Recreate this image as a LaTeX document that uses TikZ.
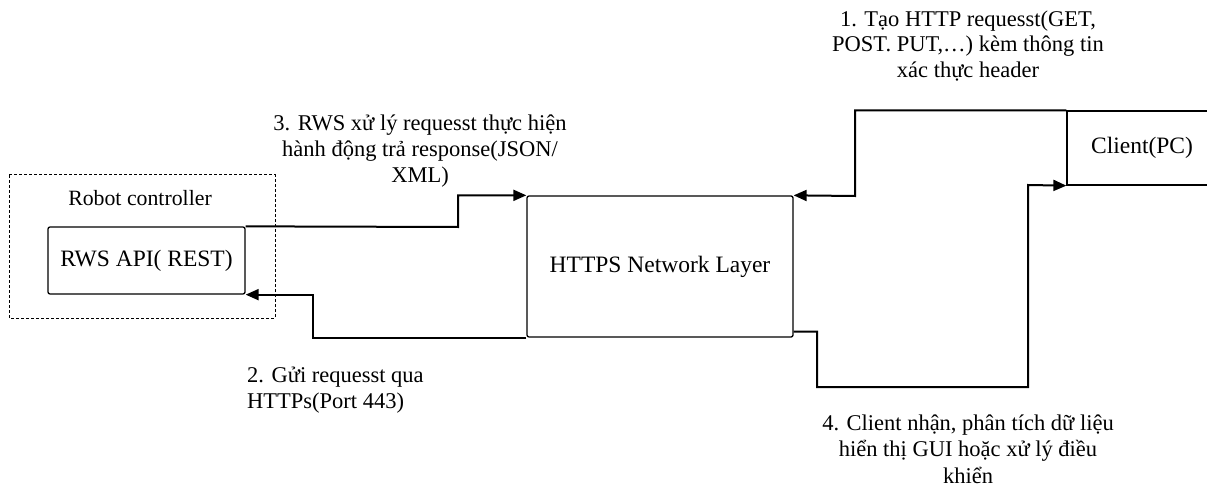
\documentclass[tikz,border=0pt]{standalone}
\usepackage{fontspec}
\setmainfont{Liberation Serif}
\usetikzlibrary{arrows.meta,calc}

\tikzset{
  x=1pt, y=-1pt,
  box/.style={draw, line width=1.3pt, rounded corners=2pt, inner sep=0pt,
              font=\fontsize{23.5}{27}\selectfont, align=center},
  conn/.style={line width=2pt, -{Triangle[length=13pt,width=11pt]}},
  lbl/.style={inner sep=0pt, align=center, font=\fontsize{22.5}{25.8}\selectfont},
  group/.style={draw, dashed, line width=1pt, dash pattern=on 3pt off 2pt}
}

\begin{document}
\begin{tikzpicture}
\useasboundingbox (0,0) rectangle (1207,489);

% Robot controller group
\draw[group] (9,175) rectangle (275,318);
\node[lbl, font=\fontsize{21.8}{25}\selectfont] (rc) at (140,198) {Robot controller};

% Main blocks
\node[box, minimum width=197pt, minimum height=67pt] (rws) at (146.5,260.5) {RWS API( REST)};
\node[box, minimum width=266pt, minimum height=141pt] (https) at (660,266.5) {HTTPS Network Layer};
\node[box, rounded corners=0pt, minimum width=150pt, minimum height=74pt] (client) at (1142,148) {Client(PC)};

% Connectors
\draw[conn] (client.north west) -| (855,196) -- (https.north east);
\draw[conn] (https.south west) -| ($(rws.south east)+(67,0)$) -- (rws.south east);
\draw[conn] (rws.north east) -- (458,227) |- (https.north west);
\draw[conn] ($(https.south east)+(0,-6)$) -| (817,387) -| (1028,185) -- (client.south west);

% Step labels
\node[lbl] (l1) at (968,46) {1. Tạo HTTP requesst(GET,\\POST. PUT,…) kèm thông tin\\xác thực header};
\node[lbl] (l3) at (420,151) {3. RWS xử lý requesst thực hiện\\hành động trả response(JSON/\\XML)};
\node[lbl, align=left, anchor=west] (l2) at (247,390) {2. Gửi requesst qua\\HTTPs(Port 443)};
\node[lbl, font=\fontsize{22.5}{26.5}\selectfont] (l4) at (968,449) {4. Client nhận, phân tích dữ liệu\\hiển thị GUI hoặc xử lý điều\\khiển};
\end{tikzpicture}
\end{document}
